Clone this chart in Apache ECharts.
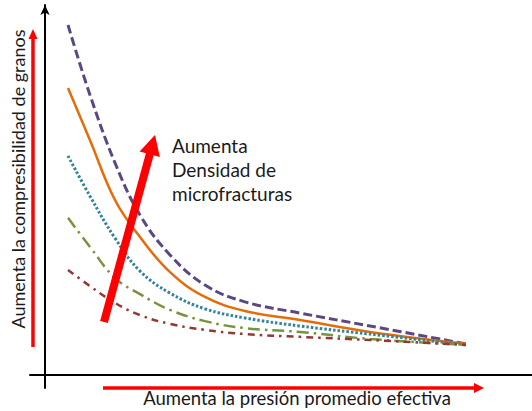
<!DOCTYPE html>
<html>
<head>
<meta charset="utf-8">
<script src="https://cdn.jsdelivr.net/npm/echarts@6/dist/echarts.min.js"></script>
<style>
  html, body { margin: 0; padding: 0; background: #ffffff; }
  #chart { width: 532px; height: 411px; }
</style>
</head>
<body>
<div id="chart"></div>
<script>
// Presión promedio efectiva (unidades relativas)
const presion = [0.575, 1.125, 1.75, 2.375, 3.125, 4.0, 5.0, 6.375, 8.125, 10.525];

// Compresibilidad de granos para cinco densidades de microfracturas (mayor -> menor)
const densidadMuyAlta = [10.0, 8.00, 6.06, 4.57, 3.43, 2.57, 2.09, 1.77, 1.40, 0.89];
const densidadAlta    = [8.20, 6.71, 5.00, 3.94, 2.94, 2.23, 1.83, 1.57, 1.23, 0.89];
const densidadMedia   = [6.26, 5.11, 3.91, 2.97, 2.34, 1.89, 1.63, 1.40, 1.17, 0.86];
const densidadBaja    = [4.49, 3.66, 2.77, 2.31, 1.86, 1.54, 1.34, 1.23, 1.03, 0.86];
const densidadMuyBaja = [3.00, 2.54, 2.06, 1.71, 1.46, 1.29, 1.17, 1.09, 1.00, 0.86];

const tituloX = 'Aumenta la presión promedio efectiva';
const tituloY = 'Aumenta la compresibilidad de granos';
const notaFlecha = ['Aumenta', 'Densidad de', 'microfracturas'];

const fuente = 'Lato, "Liberation Sans", sans-serif';

function pares(ys) {
  return presion.map((x, i) => [x, ys[i]]);
}

function curva(nombre, ys, color, width, dash) {
  return {
    name: nombre,
    type: 'line',
    data: pares(ys),
    smooth: 0.4,
    showSymbol: false,
    symbol: 'none',
    lineStyle: { color: color, width: width, type: dash, cap: 'butt' },
    z: 3
  };
}

// flecha: segmento grueso con punta triangular, en píxeles del lienzo
function flecha(x0, y0, x1, y1, grosor, largoPunta, anchoPunta, color) {
  const dx = x1 - x0, dy = y1 - y0;
  const len = Math.sqrt(dx * dx + dy * dy);
  const ux = dx / len, uy = dy / len;
  const bx = x1 - ux * largoPunta, by = y1 - uy * largoPunta;
  const px = -uy, py = ux;
  const h = anchoPunta / 2;
  return [
    {
      type: 'line',
      shape: { x1: x0, y1: y0, x2: bx + ux * 1, y2: by + uy * 1 },
      style: { stroke: color, lineWidth: grosor, lineCap: 'butt' },
      z: 10
    },
    {
      type: 'polygon',
      shape: { points: [[x1, y1], [bx + px * h, by + py * h], [bx - px * h, by - py * h]] },
      style: { fill: color },
      z: 10
    }
  ];
}

const chart = echarts.init(document.getElementById('chart'), null, { renderer: 'svg' });

chart.setOption({
  animation: false,
  backgroundColor: '#ffffff',
  grid: { left: 30, right: 0, top: 5, bottom: 23 },
  xAxis: {
    type: 'value',
    min: -0.375,
    max: 12.175,
    axisLine: { show: true, onZero: true, lineStyle: { color: '#000000', width: 2 } },
    axisTick: { show: false },
    axisLabel: { show: false },
    splitLine: { show: false }
  },
  yAxis: {
    type: 'value',
    min: -13 / 35,
    max: 370 / 35,
    axisLine: {
      show: true, onZero: true,
      symbol: ['none', 'arrow'], symbolSize: [7, 10],
      lineStyle: { color: '#000000', width: 2 }
    },
    axisTick: { show: false },
    axisLabel: { show: false },
    splitLine: { show: false }
  },
  series: [
    curva('Densidad muy alta', densidadMuyAlta, '#5b4883', 3, [9, 4]),
    curva('Densidad alta', densidadAlta, '#e46c0a', 2.5, 'solid'),
    curva('Densidad media', densidadMedia, '#31849b', 3, [2.5, 2]),
    curva('Densidad baja', densidadBaja, '#77933c', 2.5, [12, 5, 2.5, 5]),
    curva('Densidad muy baja', densidadMuyBaja, '#953735', 2.5, [7, 5, 2.5, 5])
  ],
  graphic: [
    ...flecha(33, 347, 33, 29, 3.5, 10, 9, '#ff0000'),
    ...flecha(103, 388, 484, 388, 3.5, 10, 10, '#ff0000'),
    ...flecha(104, 322, 155, 135, 8, 20, 21, '#ff0000'),
    {
      type: 'text',
      x: 18, y: 179,
      rotation: Math.PI / 2,
      style: {
        text: tituloY, font: '18px ' + fuente, fill: '#1a1a1a',
        align: 'center', verticalAlign: 'middle'
      }
    },
    {
      type: 'text',
      x: 297, y: 398,
      style: {
        text: tituloX, font: '18.5px ' + fuente, fill: '#1a1a1a',
        align: 'center', verticalAlign: 'middle'
      }
    },
    {
      type: 'text',
      x: 172, y: 133,
      style: {
        text: notaFlecha.join('\n'), font: '19px ' + fuente, fill: '#1a1a1a',
        align: 'left', verticalAlign: 'top', lineHeight: 24
      }
    }
  ]
});
</script>
</body>
</html>
